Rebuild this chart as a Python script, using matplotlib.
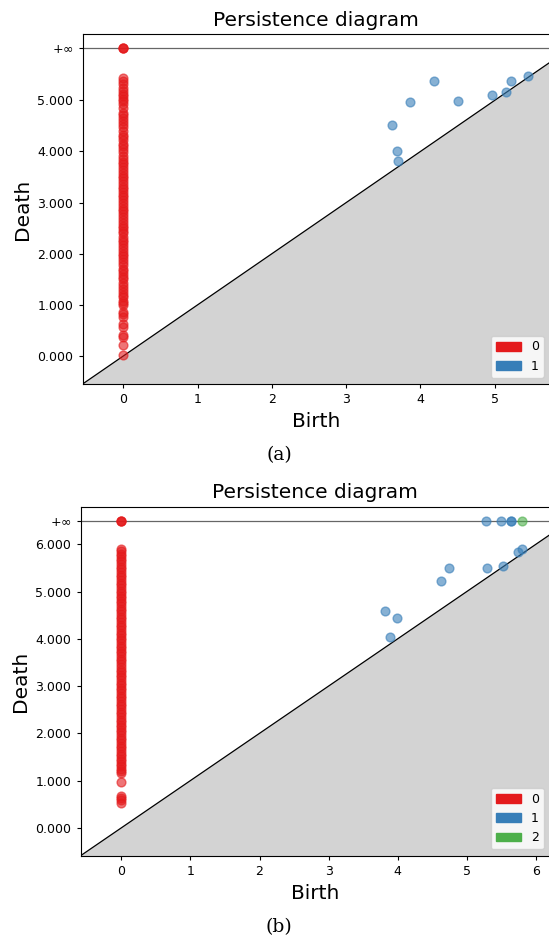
import numpy as np
import matplotlib
matplotlib.use("Agg")
import matplotlib.pyplot as plt
import matplotlib.patches as mpatches

inf = float("inf")

# panel (a): dimension 0 (birth is 0 for all of them)
a_h0_deaths = [inf, inf, inf, 0.02, 0.21, 0.38, 0.42, 0.57, 0.62, 0.77, 0.83, 0.86,
               1.00, 1.03, 1.08, 1.15, 1.20, 1.26, 1.31, 1.37, 1.42, 1.50, 1.55, 1.60,
               1.66, 1.71, 1.78, 1.84, 1.90, 1.95, 2.00, 2.05, 2.12, 2.18, 2.22, 2.27,
               2.33, 2.40, 2.45, 2.50, 2.55, 2.61, 2.66, 2.72, 2.78, 2.83, 2.88, 2.93,
               2.99, 3.05, 3.10, 3.15, 3.20, 3.26, 3.30, 3.36, 3.42, 3.48, 3.52, 3.58,
               3.63, 3.70, 3.76, 3.80, 3.86, 3.92, 3.98, 4.05, 4.10, 4.15, 4.22, 4.28,
               4.33, 4.40, 4.47, 4.53, 4.60, 4.66, 4.71, 4.76, 4.85, 4.92, 4.98, 5.03,
               5.08, 5.13, 5.19, 5.25, 5.31, 5.37, 5.44]
# panel (a): dimension 1
a_h1_births = [3.62, 3.68, 3.70, 3.86, 4.18, 4.50, 4.96, 5.15, 5.22, 5.45]
a_h1_deaths = [4.52, 4.00, 3.81, 4.97, 5.37, 4.99, 5.10, 5.17, 5.37, 5.47]

# panel (b): dimension 0
b_h0_deaths = [inf, inf, inf, 0.53, 0.58, 0.63, 0.67, 0.97, 1.16, 1.20, 1.25, 1.30,
               1.35, 1.41, 1.46, 1.52, 1.57, 1.63, 1.68, 1.74, 1.79, 1.85, 1.90, 1.96,
               2.02, 2.07, 2.13, 2.18, 2.24, 2.29, 2.35, 2.41, 2.46, 2.52, 2.57, 2.63,
               2.68, 2.74, 2.80, 2.85, 2.91, 2.96, 3.02, 3.07, 3.13, 3.19, 3.24, 3.30,
               3.35, 3.41, 3.46, 3.52, 3.58, 3.63, 3.69, 3.74, 3.80, 3.85, 3.91, 3.97,
               4.02, 4.08, 4.13, 4.19, 4.24, 4.30, 4.36, 4.41, 4.47, 4.52, 4.58, 4.63,
               4.69, 4.75, 4.80, 4.86, 4.91, 4.97, 5.02, 5.08, 5.14, 5.19, 5.25, 5.30,
               5.36, 5.41, 5.47, 5.53, 5.58, 5.64, 5.69, 5.75, 5.80, 5.86, 5.90]
# panel (b): dimension 1
b_h1_births = [5.28, 5.49, 5.64, 5.64, 3.82, 3.99, 3.89, 4.63, 4.75, 5.29, 5.53, 5.74, 5.80]
b_h1_deaths = [inf, inf, inf, inf, 4.59, 4.43, 4.04, 5.22, 5.49, 5.49, 5.55, 5.84, 5.91]
# panel (b): dimension 2
b_h2_births = [5.80]
b_h2_deaths = [inf]

colors = plt.cm.Set1.colors


def draw_diagram(ax, groups):
    # groups: list of (dim, births, deaths)
    finite = [d for _, b, ds in groups for d in ds if d != inf]
    births_all = [x for _, b, ds in groups for x in b]
    min_birth = min(births_all)
    max_death = max(finite)
    delta = (max_death - min_birth) * 0.1
    infinity = max_death + delta
    axis_end = max_death + delta / 2
    axis_start = min_birth - delta

    ax.fill_between([axis_start, axis_end], axis_start, [axis_start, axis_end],
                    color="lightgrey", zorder=1)
    ax.plot([axis_start, axis_end], [axis_start, axis_end], lw=0.9, color="k", zorder=2)
    ax.plot([axis_start, axis_end], [infinity, infinity], lw=0.9, color="k", alpha=0.6, zorder=2)

    for dim, b, ds in groups:
        y = [d if d != inf else infinity for d in ds]
        ax.scatter(b, y, s=40, alpha=0.6, color=colors[dim], zorder=3)

    # integer ticks below the axis end, then the infinity row
    yt = [t for t in range(0, 10) if t < axis_end] + [infinity]
    ytl = ["%.3f" % e for e in yt]
    ytl[-1] = r"$+\infty$"
    ax.set_yticks(yt)
    ax.set_yticklabels(ytl)
    ax.tick_params(labelsize=9, length=3.2, width=0.8)

    ax.set_xlabel("Birth", fontsize=14.5)
    ax.set_ylabel("Death", fontsize=14.5)
    ax.set_title("Persistence diagram", fontsize=14.5)

    dims = [g[0] for g in groups]
    ax.legend(handles=[mpatches.Patch(color=colors[d], label=str(d)) for d in dims],
              loc="lower right", fontsize=9)
    ax.axis([axis_start, axis_end, axis_start, infinity + delta / 2])
    for sp in ax.spines.values():
        sp.set_linewidth(0.8)


fig = plt.figure(figsize=(5.49, 9.39), dpi=100)
W, H = 549, 939
ax_a = fig.add_axes([82.6 / W, 1 - 384 / H, (550 - 82.6) / W, (384 - 34.3) / H])
ax_b = fig.add_axes([80.6 / W, 1 - 855.7 / H, (550 - 80.6) / W, (855.7 - 506.7) / H])

draw_diagram(ax_a, [(0, [0.0] * len(a_h0_deaths), a_h0_deaths),
                    (1, a_h1_births, a_h1_deaths)])
draw_diagram(ax_b, [(0, [0.0] * len(b_h0_deaths), b_h0_deaths),
                    (1, b_h1_births, b_h1_deaths),
                    (2, b_h2_births, b_h2_deaths)])

fig.text(279 / W, 1 - 455 / H, "(a)", ha="center", va="center",
         fontsize=13.5, family="DejaVu Serif")
fig.text(279 / W, 1 - 926.7 / H, "(b)", ha="center", va="center",
         fontsize=13.5, family="DejaVu Serif")

fig.savefig("out.png", dpi=100)
